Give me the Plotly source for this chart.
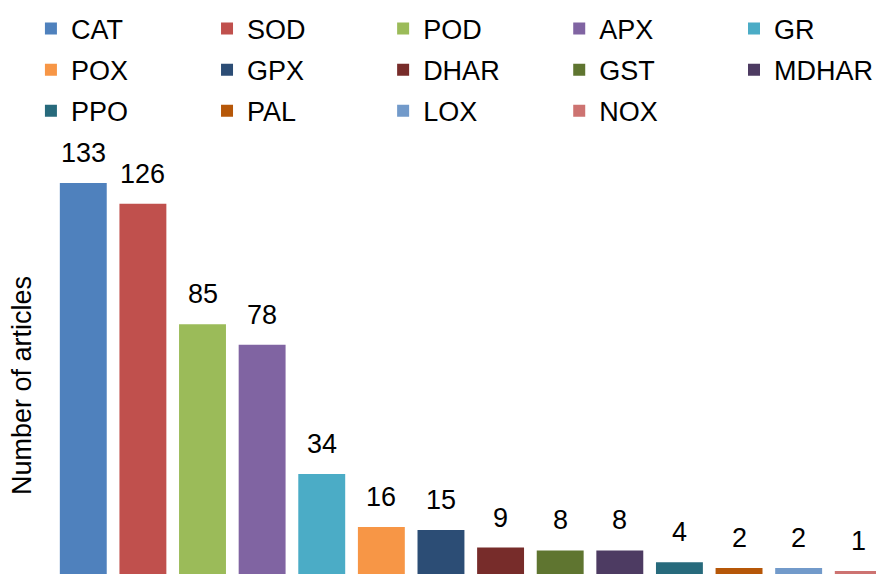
import plotly.graph_objects as go

categories = ["CAT", "SOD", "POD", "APX", "GR", "POX", "GPX", "DHAR", "GST", "MDHAR", "PPO", "PAL", "LOX", "NOX"]
values = [133, 126, 85, 78, 34, 16, 15, 9, 8, 8, 4, 2, 2, 1]
colors = ["#4F81BD", "#C0504D", "#9BBB59", "#8064A2", "#4BACC6", "#F79646", "#2C4D75",
          "#772C2A", "#5F7530", "#4D3B62", "#276A7C", "#B65708", "#729ACA", "#CD7371"]
y_title = "Number of articles"

FONT = "Liberation Sans, Arial, sans-serif"
FS = 27
W, H = 878, 574
PITCH = 59.75          # pixels per category
PX_PER_UNIT = 2.939    # pixels per article
X0 = 53.6              # pixel left edge of first category slot

n_cols = 5
col_x = [31, 207.5, 384, 560.5, 736]   # legend column left edges (pixels)

fig = go.Figure()
for i, (c, v, col) in enumerate(zip(categories, values, colors)):
    leg_idx = i % n_cols
    leg_name = "legend" if leg_idx == 0 else f"legend{leg_idx + 1}"
    fig.add_trace(go.Bar(x=[i], y=[v], name=c, marker=dict(color=col, line=dict(width=0)),
                         width=0.787, showlegend=True, legend=leg_name, legendgroup=c))
    fig.add_annotation(x=i, y=v, text=str(v), showarrow=False, yanchor="bottom",
                       yshift=13, font=dict(family=FONT, size=FS, color="black"))

fig.add_annotation(xref="paper", yref="paper", x=22 / W, y=(H - 385) / H,
                   text=y_title, textangle=-90, showarrow=False, xanchor="center", yanchor="middle",
                   font=dict(family=FONT, size=FS, color="black"))

legend_common = dict(orientation="v", xanchor="left", yanchor="top", y=1 - 4.5 / H,
                     traceorder="grouped", tracegroupgap=3,
                     font=dict(family=FONT, size=FS, color="black"),
                     bgcolor="rgba(0,0,0,0)", borderwidth=0)

layout_legends = {}
for k in range(n_cols):
    key = "legend" if k == 0 else f"legend{k + 1}"
    layout_legends[key] = dict(legend_common, x=col_x[k] / W)

x_left = -0.5 - X0 / PITCH
fig.update_layout(
    width=W, height=H,
    margin=dict(l=0, r=0, t=0, b=0),
    paper_bgcolor="white", plot_bgcolor="white",
    font=dict(family=FONT, size=FS, color="black"),
    barmode="overlay",
    xaxis=dict(range=[x_left, x_left + W / PITCH], showticklabels=False, showgrid=False,
               zeroline=False, showline=False, ticks="", fixedrange=True),
    yaxis=dict(range=[0, H / PX_PER_UNIT], showticklabels=False, showgrid=False,
               zeroline=False, showline=False, ticks="", fixedrange=True),
    **layout_legends,
)

fig.write_html("out.html", config={"displayModeBar": False},
               post_script="document.body.style.margin='0';document.body.style.padding='0';")
